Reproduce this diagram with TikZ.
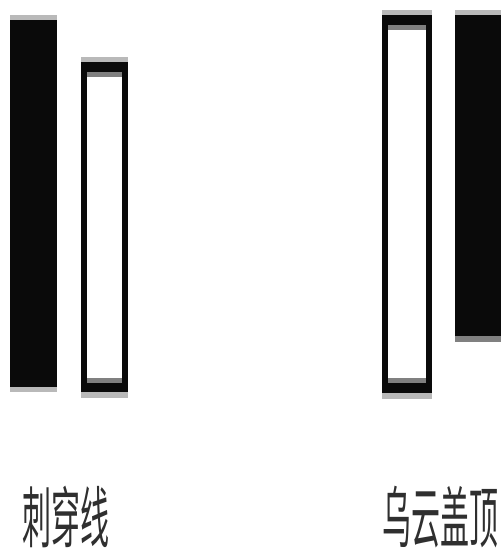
\documentclass[tikz,border=0pt]{standalone}
\usepackage{fontspec}
\newfontfamily\cjk{Noto Sans CJK SC}
\definecolor{edgeA}{RGB}{185,185,185}
\definecolor{edgeB}{RGB}{128,128,128}
\definecolor{ink}{RGB}{10,10,10}
\tikzset{
  label/.style={font=\cjk\fontsize{29}{29}\selectfont, text=ink!85, inner sep=0pt, anchor=center, yscale=2.3},
}
\begin{document}
\begin{tikzpicture}[x=1pt,y=-1pt]
\useasboundingbox (0,0) rectangle (501,550);
% left black candle
\fill[edgeA] (10,15) rectangle (57,392);
\fill[ink] (10,20) rectangle (57,387);
% left white candle
\fill[edgeA] (81,57) rectangle (128,398);
\fill[ink] (81,62) rectangle (128,392);
\fill[edgeB] (87,72) rectangle (122,383);
\fill[white] (87,77) rectangle (122,378);
% right white candle
\fill[edgeA] (382,10) rectangle (432,399);
\fill[ink] (382,15) rectangle (432,393);
\fill[edgeB] (388,25) rectangle (426,383);
\fill[white] (388,30) rectangle (426,378);
% right black candle
\fill[edgeA] (455,10) rectangle (501,342);
\fill[ink] (455,15) rectangle (501,336);
\fill[edgeB] (455,336) rectangle (501,342);
% labels
\node[label] (t1) at (66,517) {刺穿线};
\node[label] (t2) at (440,517) {乌云盖顶};
\end{tikzpicture}
\end{document}
